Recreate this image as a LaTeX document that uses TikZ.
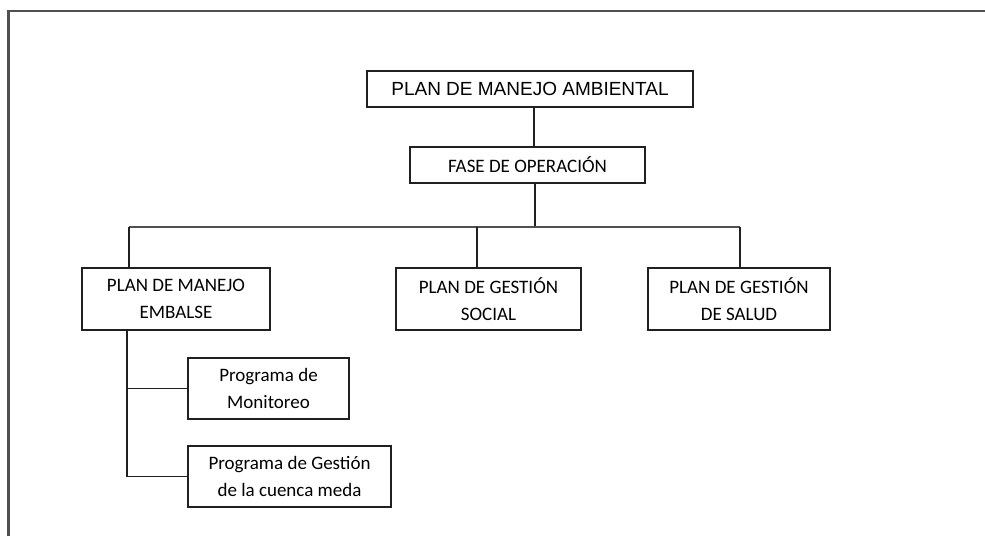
\documentclass[tikz,border=0pt]{standalone}
\usepackage{fontspec}
\setmainfont{Carlito}
\newfontfamily\arialf{Liberation Sans}
\definecolor{framegray}{HTML}{505050}
\definecolor{linedark}{HTML}{202020}
\begin{document}
\begin{tikzpicture}[x=1pt,y=-1pt,
  box/.style={draw=linedark,line width=1.7pt,rectangle,inner sep=0pt,align=center,
    font=\fontsize{19}{27}\selectfont},
  conn/.style={draw=linedark,line width=1.7pt},
  busline/.style={draw=framegray,line width=2pt},
  frameline/.style={draw=framegray,line width=2.2pt}]
\useasboundingbox (0,0) rectangle (985,536);
\fill[white] (0,0) rectangle (985,536);
% frame (top and left only)
\draw[frameline] (8.5,536) -- (8.5,11) -- (985,11);
% nodes
\node[box,minimum width=326pt,minimum height=36pt,font=\arialf\fontsize{19}{22}\selectfont] (top) at (530,89) {PLAN DE MANEJO AMBIENTAL};
\node[box,minimum width=235pt,minimum height=36pt] (fase) at (527.5,165) {FASE DE OPERACIÓN};
\node[box,minimum width=188pt,minimum height=62pt] (emb) at (176,299) {PLAN DE MANEJO\\EMBALSE};
\node[box,minimum width=185pt,minimum height=62pt] (soc) at (488.5,299) {PLAN DE GESTIÓN\\SOCIAL};
\node[box,minimum width=182pt,minimum height=62pt] (sal) at (739,299) {PLAN DE GESTIÓN\\DE SALUD};
\node[box,minimum width=161pt,minimum height=61pt] (mon) at (268.5,388.5) {Programa de\\Monitoreo};
\node[box,minimum width=203pt,minimum height=61pt] (ges) at (289.5,476.5) {Programa de Gestión\\de la cuenca meda};
% helper coordinates
\coordinate (xa) at (534,0);
\coordinate (xb) at (535,227);
\coordinate (xe) at (129,227);
\coordinate (xs) at (477,227);
\coordinate (xl) at (740,227);
\coordinate (xd) at (127,0);
% connectors
\draw[conn] (top.south -| xa) -- (fase.north -| xa);
\draw[conn] (fase.south -| xb) -- (xb);
\draw[busline] (xe) -- (xl);
\draw[conn] (xe) -- (emb.north -| xe);
\draw[conn] (xs) -- (soc.north -| xs);
\draw[conn] (xl) -- (sal.north -| xl);
\draw[conn] (emb.south -| xd) -- (ges.west -| xd) -- (ges.west);
\draw[conn] (mon.west -| xd) -- (mon.west);
\end{tikzpicture}
\end{document}
